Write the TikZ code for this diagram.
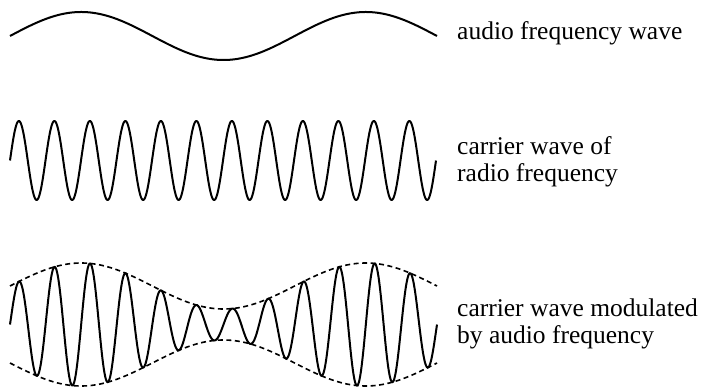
\documentclass[tikz,border=0pt]{standalone}
\usepackage{fontspec}
\setmainfont{Liberation Serif}
\usetikzlibrary{positioning}

\begin{document}
\begin{tikzpicture}[
  x=1pt, y=-1pt,
  wave/.style={line width=2pt, line join=round, samples=700, smooth},
  envelope/.style={line width=1.6pt, dash pattern=on 5pt off 3.5pt, samples=200, smooth},
  lbl/.style={inner sep=0pt, anchor=base west, align=left, font=\fontsize{25.5}{27}\selectfont}
]
\useasboundingbox (0,0) rectangle (701,387);
% audio frequency wave
\draw[wave] plot[domain=10:437] (\x, {36-24*sin((\x-10)/427*540)});
\node[lbl] (audio) at (457,40) {audio frequency wave};
% carrier wave
\draw[wave] plot[domain=10:436] (\x, {160.5-39.5*sin((\x-10)/426*4320)});
\node[lbl] (carrier) at (457,182) {carrier wave of\\radio frequency};
% modulated wave and its envelope
\draw[wave] plot[domain=10:437]
  (\x, {324.5-(38.5+23*sin((\x-10)/427*540))*sin((\x-10)/427*4320)});
\draw[envelope] plot[domain=10:437] (\x, {324.5-(38.5+23*sin((\x-10)/427*540))});
\draw[envelope] plot[domain=10:437] (\x, {324.5+(38.5+23*sin((\x-10)/427*540))});
\node[lbl] (modulated) at (457,343) {carrier wave modulated\\by audio frequency};
\end{tikzpicture}
\end{document}
